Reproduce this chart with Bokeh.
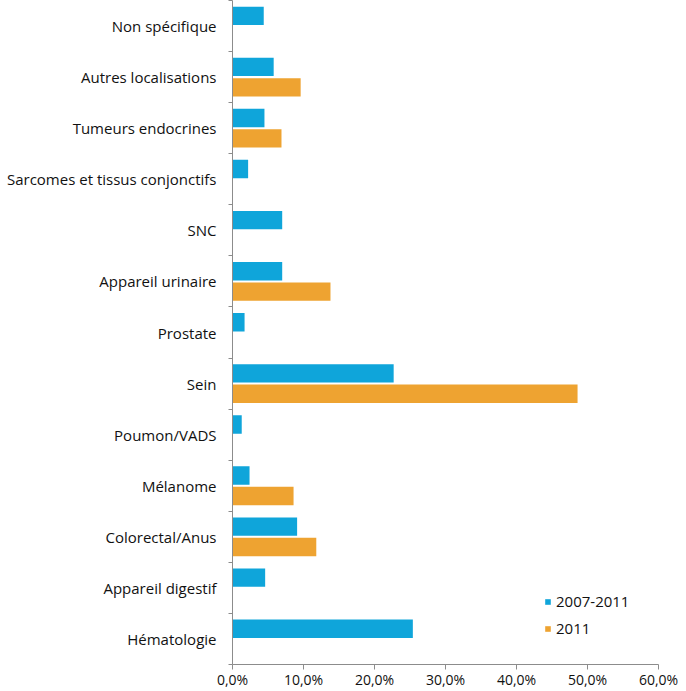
from bokeh.plotting import figure
from bokeh.models import FixedTicker, Range1d, Legend, LegendItem, ColumnDataSource
from bokeh.embed import file_html
from bokeh.resources import INLINE

categories = ["Hématologie", "Appareil digestif", "Colorectal/Anus", "Mélanome",
              "Poumon/VADS", "Sein", "Prostate", "Appareil urinaire", "SNC",
              "Sarcomes et tissus conjonctifs", "Tumeurs endocrines",
              "Autres localisations", "Non spécifique"]
serie_2007_2011 = [25.4, 4.6, 9.1, 2.4, 1.3, 22.7, 1.7, 7.0, 7.0, 2.2, 4.5, 5.8, 4.4]
serie_2011 = [None, None, 11.8, 8.6, None, 48.6, None, 13.8, None, None, 6.9, 9.6, None]
x_ticks = [0, 10, 20, 30, 40, 50, 60]
x_tick_labels = ["0,0%", "10,0%", "20,0%", "30,0%", "40,0%", "50,0%", "60,0%"]

BLUE = "#0FA5DA"
ORANGE = "#EEA331"
FONT = "Open Sans"

idx = list(range(len(categories)))
nan = float("nan")
src = ColumnDataSource(dict(
    y1=[i + 0.2 for i in idx],
    y2=[i - 0.2 for i in idx],
    a=serie_2007_2011,
    b=[nan if v is None else v for v in serie_2011],
))

p = figure(width=686, height=691, output_backend="svg", toolbar_location=None,
           x_range=Range1d(0, 60), y_range=Range1d(-0.5, 12.5),
           min_border_left=232, min_border_right=28, min_border_top=0,
           min_border_bottom=24)
p.outline_line_color = None
p.grid.visible = False

r1 = p.hbar(y="y1", left=0, right="a", height=0.36, source=src,
            fill_color=BLUE, line_color=None)
r2 = p.hbar(y="y2", left=0, right="b", height=0.36, source=src,
            fill_color=ORANGE, line_color=None)

AX = "#8C8C8C"
xa = p.xaxis[0]
xa.ticker = FixedTicker(ticks=x_ticks)
xa.major_label_overrides = {t: l for t, l in zip(x_ticks, x_tick_labels)}
xa.axis_line_color = AX
xa.major_tick_line_color = AX
xa.major_tick_in = 0
xa.major_tick_out = 5
xa.minor_tick_line_color = None
xa.major_label_text_font = FONT
xa.major_label_text_font_size = "14px"
xa.major_label_text_color = "#111111"
xa.major_label_standoff = 0

ya = p.yaxis[0]
ya.ticker = FixedTicker(ticks=idx, minor_ticks=[i - 0.5 for i in range(len(categories) + 1)])
ya.major_label_overrides = {i: c for i, c in zip(idx, categories)}
ya.axis_line_color = AX
ya.major_tick_line_color = None
ya.major_tick_in = 0
ya.major_tick_out = 0
ya.minor_tick_line_color = AX
ya.minor_tick_in = 0
ya.minor_tick_out = 4
ya.major_label_text_font = FONT
ya.major_label_text_font_size = "15px"
ya.major_label_text_color = "#111111"
ya.major_label_standoff = 12

legend = Legend(items=[LegendItem(label="2007-2011", renderers=[r1]),
                       LegendItem(label="2011", renderers=[r2])],
                location=(312, 26), glyph_width=7, glyph_height=7,
                label_text_font=FONT, label_text_font_size="15px",
                label_text_color="#111111", label_standoff=5,
                label_height=20, spacing=7, padding=0, margin=0,
                border_line_color=None, background_fill_alpha=0)
p.add_layout(legend)

open("out.html", "w").write(file_html(p, INLINE))
